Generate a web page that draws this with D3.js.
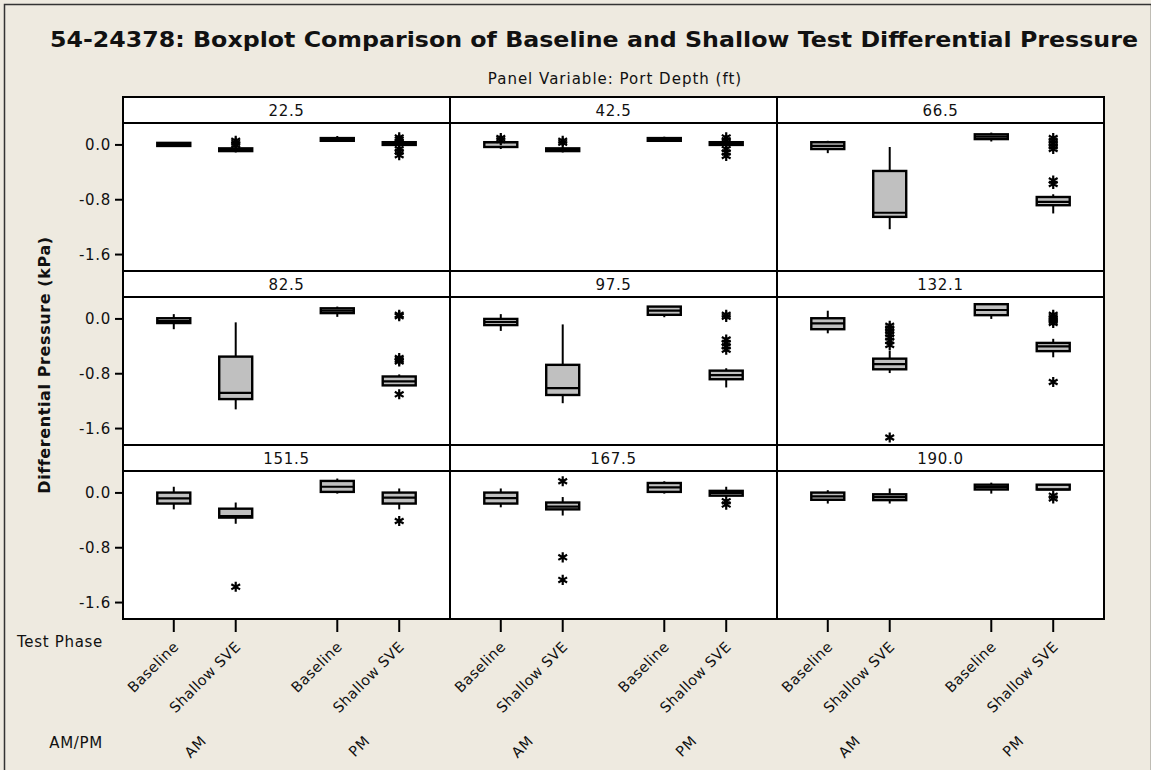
<!DOCTYPE html>
<html><head><meta charset="utf-8">
<script src="https://cdn.jsdelivr.net/npm/d3@7"></script>
<style>
body{margin:0;background:#EEEAE0;}
svg{display:block;}
text{font-family:"DejaVu Sans",sans-serif;fill:#111;}
</style>
</head><body>
<svg id="chart" width="1151" height="770"></svg>
<script>
// ---------- data ----------
const titleText = "54-24378:  Boxplot Comparison of Baseline and Shallow Test Differential Pressure";
const panelVarText = "Panel Variable: Port Depth (ft)";
const yLabelText = "Differential Pressure (kPa)";
const depths = ["22.5","42.5","66.5","82.5","97.5","132.1","151.5","167.5","190.0"];
const periods = ["AM","PM"];
const phases = ["Baseline","Shallow SVE"];
const yTicks = [0.0, -0.8, -1.6];
const yTickLabels = ["0.0","-0.8","-1.6"];
// boxes in order: Baseline AM, Shallow SVE AM, Baseline PM, Shallow SVE PM
// each: [whiskerLow, q1, median, q3, whiskerHigh]
const d22_5 = [[-0.03,-0.015,0.0,0.03,0.03],[-0.11,-0.09,-0.07,-0.05,-0.04],[0.06,0.06,0.08,0.10,0.13],[-0.02,0.0,0.02,0.04,0.06]];
const o22_5 = [[],[0.06,0.03,0.0],[],[0.11,0.08,0.04,-0.06,-0.1,-0.15]];
const d42_5 = [[-0.06,-0.03,0.04,0.04,0.05],[-0.11,-0.09,-0.07,-0.05,-0.04],[0.06,0.06,0.08,0.10,0.12],[-0.02,0.0,0.02,0.04,0.06]];
const o42_5 = [[0.1,0.07],[0.06,0.03],[],[0.11,0.07,0.03,-0.06,-0.11,-0.16]];
const d66_5 = [[-0.12,-0.06,-0.015,0.04,0.06],[-1.23,-1.05,-0.99,-0.38,-0.03],[0.05,0.085,0.12,0.155,0.18],[-1.0,-0.88,-0.83,-0.76,-0.72]];
const o66_5 = [[],[],[],[0.1,0.06,0.02,-0.02,-0.06,-0.52,-0.57]];
const d82_5 = [[-0.15,-0.06,-0.03,0.01,0.07],[-1.32,-1.17,-1.08,-0.55,-0.05],[0.03,0.085,0.12,0.155,0.18],[-0.97,-0.97,-0.91,-0.84,-0.81]];
const o82_5 = [[],[],[],[0.06,0.04,-0.57,-0.6,-0.62,-1.1]];
const d97_5 = [[-0.175,-0.09,-0.045,0.0,0.07],[-1.23,-1.11,-1.01,-0.67,-0.08],[0.025,0.06,0.12,0.18,0.18],[-1.0,-0.88,-0.82,-0.755,-0.72]];
const o97_5 = [[],[],[],[0.06,0.03,-0.3,-0.35,-0.4,-0.45]];
const d132_1 = [[-0.21,-0.15,-0.065,0.01,0.12],[-0.79,-0.735,-0.66,-0.58,-0.46],[0.0,0.055,0.13,0.215,0.215],[-0.56,-0.47,-0.4,-0.35,-0.29]];
const o132_1 = [[],[-0.1,-0.14,-0.18,-0.22,-0.27,-0.32,-0.38,-1.73],[],[0.06,0.03,0.0,-0.03,-0.06,-0.92]];
const d151_5 = [[-0.24,-0.155,-0.08,0.005,0.09],[-0.45,-0.36,-0.34,-0.23,-0.14],[-0.01,0.015,0.09,0.175,0.21],[-0.24,-0.155,-0.07,0.005,0.065]];
const o151_5 = [[],[-1.37],[],[-0.41]];
const d167_5 = [[-0.21,-0.155,-0.075,0.005,0.065],[-0.33,-0.24,-0.2,-0.14,-0.06],[-0.01,0.015,0.08,0.145,0.17],[-0.04,-0.04,0.0,0.03,0.09]];
const o167_5 = [[],[0.17,-0.94,-1.27],[],[-0.12,-0.17]];
const d190_0 = [[-0.155,-0.1,-0.05,0.005,0.04],[-0.155,-0.105,-0.06,-0.02,0.065],[-0.01,0.05,0.085,0.12,0.15],[0.05,0.05,0.05,0.12,0.12]];
const o190_0 = [[],[],[],[-0.04,-0.08]];

const boxData = [d22_5,d42_5,d66_5,d82_5,d97_5,d132_1,d151_5,d167_5,d190_0];
const outData = [o22_5,o42_5,o66_5,o82_5,o97_5,o132_1,o151_5,o167_5,o190_0];

// ---------- layout ----------
const svg = d3.select("#chart");
const W = 1151, H = 770;
const gridL = 123, gridR = 1104, gridT = 97;
const colW = (gridR - gridL) / 3;
const stripH = 26, plotH = 148, rowH = stripH + plotH;
const boxW = 33;
const LS = "0.7px";

svg.append("rect").attr("x",0).attr("y",0).attr("width",W).attr("height",H).attr("fill","#EEEAE0");
svg.append("rect").attr("x",4.5).attr("y",4.5).attr("width",W-4).attr("height",H).attr("fill","none").attr("stroke","#333").attr("stroke-width",1.5);

svg.append("text").attr("x",594).attr("y",47).attr("text-anchor","middle")
  .attr("font-size",21).attr("font-weight","bold").attr("textLength",1088).attr("lengthAdjust","spacingAndGlyphs")
  .text(titleText);
svg.append("text").attr("x",615).attr("y",84).attr("text-anchor","middle").attr("font-size",15)
  .attr("letter-spacing","1px").attr("fill","#222").text(panelVarText);

svg.append("text").attr("transform","translate(50,365) rotate(-90)").attr("text-anchor","middle")
  .attr("font-size",16).attr("font-weight","bold").attr("letter-spacing","0.6px").text(yLabelText);

const y = d3.scaleLinear().domain([-1.84, 0.32]).range([plotH, 0]);
const xOuter = d3.scaleBand().domain(periods).range([0, colW]);
const xInner = d3.scalePoint().domain(phases).range([0, xOuter.bandwidth()]).padding(0.82);
const xPos = (k) => xOuter(periods[Math.floor(k/2)]) + xInner(phases[k%2]);
const sym = d3.symbol().type(d3.symbolAsterisk).size(72);

depths.forEach((dep, i) => {
  const r = Math.floor(i/3), c = i%3;
  const px = gridL + c*colW, py = gridT + r*rowH;
  const g = svg.append("g").attr("transform",`translate(${px},${py})`);
  g.append("rect").attr("width",colW).attr("height",rowH).attr("fill","#fff");
  g.append("text").attr("x",colW/2).attr("y",stripH/2+5.5).attr("text-anchor","middle").attr("font-size",15)
    .attr("letter-spacing",LS).attr("fill","#222").text(dep);
  const p = g.append("g").attr("transform",`translate(0,${stripH})`);
  boxData[i].forEach((b, k) => {
    const cx = xPos(k);
    const [wl,q1,md,q3,wh] = b;
    p.append("line").attr("x1",cx).attr("x2",cx).attr("y1",y(wh)).attr("y2",y(q3)).attr("stroke","#000").attr("stroke-width",2);
    p.append("line").attr("x1",cx).attr("x2",cx).attr("y1",y(q1)).attr("y2",y(wl)).attr("stroke","#000").attr("stroke-width",2);
    p.append("rect").attr("x",cx-boxW/2).attr("y",y(q3)).attr("width",boxW).attr("height",Math.max(0.5,y(q1)-y(q3)))
      .attr("fill","#C0C0C0").attr("stroke","#000").attr("stroke-width",2.4);
    p.append("line").attr("x1",cx-boxW/2).attr("x2",cx+boxW/2).attr("y1",y(md)).attr("y2",y(md)).attr("stroke","#000").attr("stroke-width",2.2);
    outData[i][k].forEach(v => {
      p.append("path").attr("d",sym()).attr("transform",`translate(${cx},${y(v)})`)
        .attr("fill","none").attr("stroke","#000").attr("stroke-width",2.2);
    });
  });
  g.append("line").attr("x1",0).attr("x2",colW).attr("y1",stripH).attr("y2",stripH).attr("stroke","#000").attr("stroke-width",2);
  g.append("rect").attr("width",colW).attr("height",rowH).attr("fill","none").attr("stroke","#000").attr("stroke-width",2);

  if (c === 0) {
    const ax = g.append("g").attr("transform",`translate(0,${stripH})`);
    yTicks.forEach((t, j) => {
      ax.append("line").attr("x1",-8).attr("x2",0).attr("y1",y(t)).attr("y2",y(t)).attr("stroke","#000").attr("stroke-width",2);
      ax.append("text").attr("x",-12).attr("y",y(t)).attr("dy","0.36em").attr("text-anchor","end").attr("font-size",15)
        .attr("letter-spacing",LS).attr("fill","#222").text(yTickLabels[j]);
    });
  }
  if (r === 2) {
    const bx = g.append("g").attr("transform",`translate(0,${rowH})`);
    [0,1,2,3].forEach(k => {
      const cx = xPos(k);
      bx.append("line").attr("x1",cx).attr("x2",cx).attr("y1",0).attr("y2",13).attr("stroke","#000").attr("stroke-width",2);
      bx.append("text").attr("transform",`translate(${cx-2},${21}) rotate(-45)`).attr("text-anchor","end")
        .attr("dy","0.75em").attr("font-size",14.5).attr("letter-spacing","0.4px").attr("fill","#222").text(phases[k%2]);
    });
    periods.forEach(pr => {
      const cx = xOuter(pr) + xOuter.bandwidth()/2;
      bx.append("text").attr("transform",`translate(${cx-5},${115}) rotate(-45)`).attr("text-anchor","end")
        .attr("dy","0.75em").attr("font-size",14.5).attr("letter-spacing","0.8px").attr("fill","#222").text(pr);
    });
  }
});

svg.append("text").attr("x",103).attr("y",647).attr("text-anchor","end").attr("font-size",15)
  .attr("letter-spacing",LS).attr("fill","#222").text("Test Phase");
svg.append("text").attr("x",103).attr("y",748).attr("text-anchor","end").attr("font-size",15)
  .attr("letter-spacing",LS).attr("fill","#222").text("AM/PM");
</script>
</body></html>
